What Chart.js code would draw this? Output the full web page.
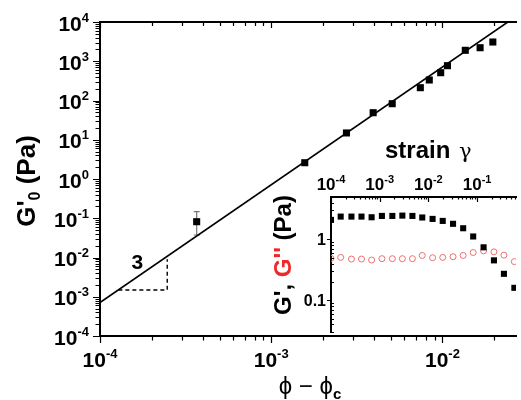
<!DOCTYPE html>
<html>
<head>
<meta charset="utf-8">
<script src="https://cdn.jsdelivr.net/npm/chart.js@4.4.1/dist/chart.umd.min.js"></script>
<style>
html, body { margin: 0; padding: 0; background: #fff; }
#wrap { position: relative; width: 521px; height: 400px; overflow: hidden; }
#mainChart { position: absolute; left: 0; top: 0; }
#insetChart { position: absolute; left: 250px; top: 140px; }
</style>
</head>
<body>
<div id="wrap">
<canvas id="mainChart" width="521" height="400"></canvas>
<canvas id="insetChart" width="271" height="197"></canvas>
</div>
<script>
// main plot: G'0 vs phi - phi_c
const phi = [3.67e-4, 1.57e-3, 2.75e-3, 3.94e-3, 5.09e-3, 7.43e-3, 8.38e-3, 9.77e-3, 1.07e-2, 1.36e-2, 1.66e-2, 1.97e-2];
const g0 = [0.0817, 2.6, 14.9, 48.9, 82.9, 212, 333, 511, 771, 1901, 2213, 3091];
const errPhi = [3.67e-4];
const errLow = [0.0374];
const errHigh = [0.147];
const fitPhi = [1e-4, 0.0241];
const fitG0 = [7.1e-4, 1e4];
const slopePhi = [1.28e-4, 2.47e-4, 2.47e-4];
const slopeG0 = [1.49e-3, 1.49e-3, 9.0e-3];
const slopeText = "3";
const slopeTextAt = [1.65e-4, 7.8e-3];
const mainXExp = [-4, -3, -2];
const mainYExp = [-4, -3, -2, -1, 0, 1, 2, 3, 4];

// inset: G' and G'' vs strain
const strain = [1.0e-4, 1.58e-4, 2.63e-4, 4.23e-4, 6.82e-4, 1.11e-3, 1.82e-3, 2.92e-3, 4.70e-3, 7.48e-3, 1.22e-2, 1.97e-2, 3.21e-2, 5.18e-2, 8.32e-2, 0.136, 0.222, 0.356, 0.583];
const gPrime = [2.10, 2.38, 2.38, 2.38, 2.32, 2.44, 2.44, 2.47, 2.44, 2.30, 2.18, 2.02, 1.81, 1.53, 1.12, 0.743, 0.453, 0.272, 0.160];
const gDouble = [0.489, 0.507, 0.476, 0.476, 0.458, 0.483, 0.483, 0.483, 0.483, 0.546, 0.501, 0.507, 0.520, 0.546, 0.610, 0.650, 0.626, 0.552, 0.432];
const insetXExp = [-4, -3, -2, -1];
const insetYTicks = ["1", "0.1"];

const FONT = '"Liberation Sans", Arial, sans-serif';
const RED = "rgb(240,40,40)";

function pts(xs, ys) {
    return xs.map((x, i) => ({x: x, y: ys[i]}));
}

function drawParts(ctx, parts, x, y, align) {
    let w = 0;
    parts.forEach(p => { ctx.font = p.font; p.w = ctx.measureText(p.text).width; w += p.w; });
    let cx = align === "right" ? x - w : (align === "center" ? x - w / 2 : x);
    ctx.textAlign = "left";
    ctx.textBaseline = "alphabetic";
    parts.forEach(p => {
        ctx.font = p.font;
        ctx.fillStyle = p.color || "#000";
        ctx.fillText(p.text, cx, y + (p.dy || 0));
        cx += p.w;
    });
}

function powParts(e, big, small, rise) {
    return [
        {text: "10", font: "bold " + big + "px " + FONT},
        {text: String(e), font: "bold " + small + "px " + FONT, dy: -rise}
    ];
}

// log tick marks along a scale; dir = +1/-1 direction of the mark
function logTicks(ctx, scale, horizontal, at, dir, majorLen, minorLen) {
    const lo = Math.floor(Math.log10(scale.min));
    const hi = Math.ceil(Math.log10(scale.max));
    ctx.strokeStyle = "#000";
    ctx.lineWidth = 1.2;
    ctx.beginPath();
    for (let e = lo; e <= hi; e++) {
        for (let m = 1; m <= 9; m++) {
            const v = m * Math.pow(10, e);
            if (v < scale.min * 0.999 || v > scale.max * 1.001) continue;
            const p = Math.round(scale.getPixelForValue(v)) + 0.5;
            const len = m === 1 ? majorLen : minorLen;
            if (horizontal) { ctx.moveTo(p, at); ctx.lineTo(p, at + dir * len); }
            else { ctx.moveTo(at, p); ctx.lineTo(at + dir * len, p); }
        }
    }
    ctx.stroke();
}

const mainDecor = {
    id: "mainDecor",
    beforeDatasetsDraw(chart) {
        const ctx = chart.ctx;
        const xs = chart.scales.x, ys = chart.scales.y;
        ctx.save();
        ctx.strokeStyle = "#777";
        ctx.lineWidth = 1.2;
        errPhi.forEach((v, i) => {
            const px = xs.getPixelForValue(v);
            const y1 = ys.getPixelForValue(errLow[i]);
            const y2 = ys.getPixelForValue(errHigh[i]);
            ctx.beginPath();
            ctx.moveTo(px, y1); ctx.lineTo(px, y2);
            ctx.moveTo(px - 3, y1); ctx.lineTo(px + 3, y1);
            ctx.moveTo(px - 3, y2); ctx.lineTo(px + 3, y2);
            ctx.stroke();
        });
        ctx.restore();
    },
    afterDraw(chart) {
        const ctx = chart.ctx;
        const a = chart.chartArea;
        const xs = chart.scales.x, ys = chart.scales.y;
        ctx.save();
        logTicks(ctx, ys, false, a.left - 1, -1, 6, 3.5);
        logTicks(ctx, xs, true, a.bottom + 1, 1, 6, 3.5);
        logTicks(ctx, xs, true, a.top + 1, 1, 5, 3);

        mainYExp.forEach(e => {
            const py = ys.getPixelForValue(Math.pow(10, e));
            drawParts(ctx, powParts(e, 21, 13, 9), 89, py + 8.5, "right");
        });
        mainXExp.forEach(e => {
            const px = xs.getPixelForValue(Math.pow(10, e));
            drawParts(ctx, powParts(e, 21, 13, 9), px, a.bottom + 31, "center");
        });

        ctx.font = "bold 21px " + FONT;
        ctx.fillStyle = "#000";
        ctx.textAlign = "center";
        ctx.textBaseline = "middle";
        ctx.fillText(slopeText, xs.getPixelForValue(slopeTextAt[0]), ys.getPixelForValue(slopeTextAt[1]) + 1);

        // axis titles
        drawParts(ctx, [
            {text: "\u03D5 \u2212 \u03D5", font: "24px " + FONT},
            {text: "c", font: "bold 15px " + FONT, dy: 5}
        ], 310, 394, "center");

        ctx.translate(25, 181);
        ctx.rotate(-Math.PI / 2);
        drawParts(ctx, [
            {text: "G'", font: "bold 26px " + FONT},
            {text: "0", font: "bold 16px " + FONT, dy: 5},
            {text: " (Pa)", font: "bold 26px " + FONT}
        ], 0, 9.5, "center");
        ctx.restore();
    }
};

const insetDecor = {
    id: "insetDecor",
    afterDraw(chart) {
        const ctx = chart.ctx;
        const a = chart.chartArea;
        const xs = chart.scales.x, ys = chart.scales.y;
        ctx.save();
        logTicks(ctx, xs, true, a.top, 1, 5, 2.5);
        logTicks(ctx, ys, false, a.left, 1, 0, 3);
        ctx.lineWidth = 1.2;
        ctx.beginPath();
        insetYTicks.forEach(t => {
            const py = Math.round(ys.getPixelForValue(Number(t))) + 0.5;
            ctx.moveTo(a.left, py); ctx.lineTo(a.left - 4, py);
        });
        ctx.stroke();

        insetXExp.forEach(e => {
            const px = xs.getPixelForValue(Math.pow(10, e));
            drawParts(ctx, powParts(e, 17, 11, 7), px, a.top - 7, "center");
        });
        insetYTicks.forEach(t => {
            const py = ys.getPixelForValue(Number(t));
            drawParts(ctx, [{text: t, font: "bold 16px " + FONT}], a.left - 5, py + 6, "right");
        });

        drawParts(ctx, [{text: "strain", font: "bold 24px " + FONT}], 135, 18, "left");
        drawParts(ctx, [{text: "\u03B3", font: "21px \"DejaVu Serif\", serif"}], 209, 18, "left");

        ctx.translate(32, 115);
        ctx.rotate(-Math.PI / 2);
        drawParts(ctx, [
            {text: "G', ", font: "bold 24px " + FONT},
            {text: "G''", font: "bold 24px " + FONT, color: RED},
            {text: " (Pa)", font: "bold 24px " + FONT}
        ], 0, 9, "center");
        ctx.restore();
    }
};

function logAxis(min, max, pos) {
    return {
        type: "logarithmic",
        position: pos,
        min: min,
        max: max,
        grid: {display: false},
        ticks: {display: false},
        border: {display: true, color: "#000", width: 2},
        afterFit(s) {
            if (s.isHorizontal()) s.height = 0; else s.width = 0;
        }
    };
}

const mainX2 = logAxis(1e-4, 0.0269, "top");

new Chart(document.getElementById("mainChart"), {
    type: "scatter",
    data: {
        datasets: [
            {
                type: "line",
                data: pts(fitPhi, fitG0),
                borderColor: "#000",
                borderWidth: 1.6,
                pointRadius: 0,
                fill: false
            },
            {
                type: "line",
                data: pts(slopePhi, slopeG0),
                borderColor: "#000",
                borderWidth: 1.4,
                borderDash: [4, 3],
                pointRadius: 0,
                fill: false
            },
            {
                data: pts(phi, g0),
                pointStyle: "rect",
                pointRadius: 5,
                backgroundColor: "#000",
                borderColor: "#000",
                borderWidth: 0
            }
        ]
    },
    options: {
        responsive: false,
        animation: false,
        layout: {padding: {left: 100, top: 22, right: 0, bottom: 64}},
        plugins: {legend: {display: false}, tooltip: {enabled: false}},
        scales: {
            x: logAxis(1e-4, 0.0269, "bottom"),
            x2: mainX2,
            y: logAxis(1e-4, 1e4, "left")
        }
    },
    plugins: [mainDecor]
});

const insetY = logAxis(0.03, 5, "left");

new Chart(document.getElementById("insetChart"), {
    type: "scatter",
    data: {
        datasets: [
            {
                data: pts(strain, gPrime),
                pointStyle: "rect",
                pointRadius: 4.3,
                backgroundColor: "#000",
                borderColor: "#000",
                borderWidth: 0,
                clip: 0
            },
            {
                data: pts(strain, gDouble),
                pointStyle: "circle",
                pointRadius: 3,
                backgroundColor: "rgba(0,0,0,0)",
                borderColor: "rgb(238,110,110)",
                borderWidth: 1,
                clip: 0
            }
        ]
    },
    options: {
        responsive: false,
        animation: false,
        layout: {padding: {left: 81, top: 57, right: 0, bottom: 1}},
        plugins: {legend: {display: false}, tooltip: {enabled: false}},
        scales: {
            x: logAxis(1e-4, 0.63, "top"),
            y: insetY
        }
    },
    plugins: [insetDecor]
});
</script>
</body>
</html>
